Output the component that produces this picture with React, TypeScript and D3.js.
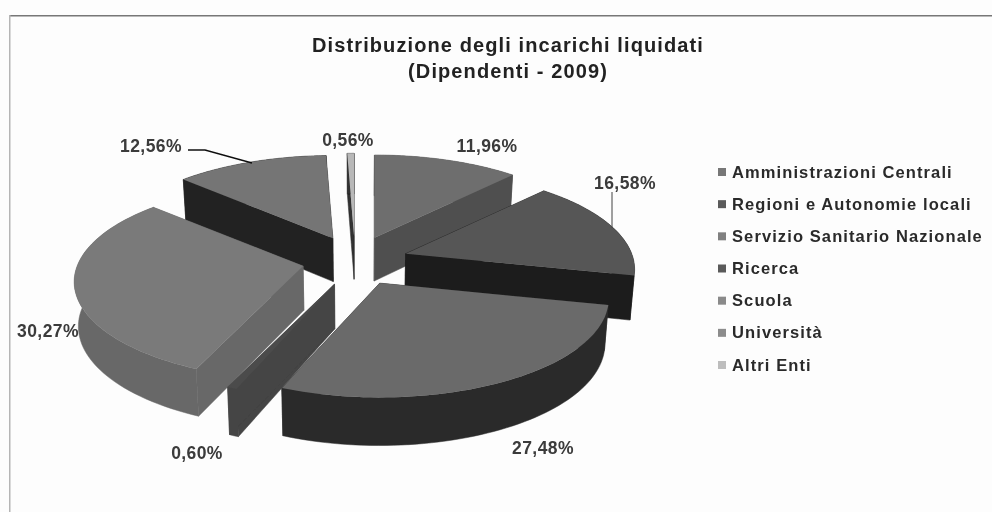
import * as d3 from 'd3';

const categories = [
  'Amministrazioni Centrali',
  'Regioni e Autonomie locali',
  'Servizio Sanitario Nazionale',
  'Ricerca',
  'Scuola',
  'Università',
  'Altri Enti',
];
const shares = [11.96, 16.58, 27.48, 0.6, 30.27, 12.56, 0.56];
const shareLabels = ['11,96%', '16,58%', '27,48%', '0,60%', '30,27%', '12,56%', '0,56%'];
const titleLines = ['Distribuzione degli incarichi liquidati', '(Dipendenti - 2009)'];

const topColors = ['#6e6e6e', '#565656', '#6a6a6a', '#4c4c4c', '#7a7a7a', '#747474', '#b8b8b8'];
const sideColors = ['#505050', '#1c1c1c', '#2c2c2c', '#454545', '#686868', '#242424', '#303030'];
const legendColors = ['#777777', '#5a5a5a', '#808080', '#5a5a5a', '#8a8a8a', '#8c8c8c', '#bdbdbd'];
const labelSpots = [
  [487, 146],
  [625, 183],
  [543, 448],
  [197, 453],
  [48, 331],
  [151, 146],
  [348, 140],
];

const FONT = '"Liberation Sans", Arial, sans-serif';
const cx = 355;
const cy = 261;
const perspective = 0.16;

// scarto delle fette dal centro
const explodeX = d3.scaleLinear().domain([-1, 1]).range([cx - 53, cx + 53]);
const explodeY = d3.scaleLinear().domain([-1, 1]).range([cy + 25, cy - 25]);
const radiusX = d3.scaleLinear().domain([-1, 1]).range([-226, 226]);
const radiusY = d3.scaleLinear().domain([-1, 1]).range([96, -96]);
const legendY = d3.scalePoint<string>().domain(categories).range([172, 365]);

const path = d3.line();

type Pt = [number, number];

function drop([x, y]: Pt): Pt {
  return [cx + (x - cx) * 0.985, y + 44 + (y - 260) * 0.03];
}

function buildSlice(d: d3.PieArcDatum<number>) {
  const mid = (d.startAngle + d.endAngle) / 2;
  const apex: Pt = [explodeX(Math.sin(mid)), explodeY(Math.cos(mid))];
  const steps = d3.range(61).map(i => d.startAngle + ((d.endAngle - d.startAngle) * i) / 60);
  const rim: Pt[] = steps.map(a => {
    const p = 1 / (1 + perspective * Math.cos(a));
    return [apex[0] + radiusX(Math.sin(a)) * p, apex[1] + radiusY(Math.cos(a)) * p];
  });
  const first = rim[0];
  const last = rim[rim.length - 1];
  return {
    depth: Math.cos(mid),
    top: path([apex, ...rim]) + 'Z',
    sides: [
      path([apex, first, drop(first), drop(apex)]) + 'Z',
      path([apex, last, drop(last), drop(apex)]) + 'Z',
      path([...rim, ...rim.map(drop).reverse()]) + 'Z',
    ],
  };
}

const pie = d3
  .pie<number>()
  .sort(null)
  .value(d => d);

export default function App() {
  const slices = pie(shares)
    .map((d, i) => ({ ...buildSlice(d), i }))
    .sort((a, b) => b.depth - a.depth);

  return (
    <svg
      width={992}
      height={512}
      style={{ position: 'fixed', left: 0, top: 0, background: '#fdfdfd' }}
      fontFamily={FONT}
    >
      <defs>
        <filter id="scan" x="0" y="0" width="100%" height="100%">
          <feGaussianBlur stdDeviation="0.7" />
        </filter>
      </defs>
      <g filter="url(#scan)">
        <path d="M9,15.5H992" stroke="#777" strokeWidth={2} fill="none" />
        <path d="M9.5,15V512" stroke="#b5b5b5" strokeWidth={2} fill="none" />

        {titleLines.map((t, i) => (
          <text
            key={t}
            x={508}
            y={52 + i * 26}
            textAnchor="middle"
            fontSize={20}
            fontWeight="bold"
            letterSpacing={1.1}
            fill="#222"
          >
            {t}
          </text>
        ))}

        {slices.map(s => (
          <g key={s.i}>
            {s.sides.map((d, j) => (
              <path key={j} d={d} fill={sideColors[s.i]} stroke={sideColors[s.i]} strokeWidth={0.5} />
            ))}
            <path d={s.top} fill={topColors[s.i]} />
          </g>
        ))}

        <path d="M188,150H205L252,163" stroke="#111" strokeWidth={1.5} fill="none" />
        <path d="M612,192V228" stroke="#444" strokeWidth={1} fill="none" />

        {shareLabels.map((t, i) => (
          <text
            key={t}
            x={labelSpots[i][0]}
            y={labelSpots[i][1] + 6}
            textAnchor="middle"
            fontSize={17.5}
            fontWeight="bold"
            letterSpacing={0.4}
            fill="#3a3a3a"
          >
            {t}
          </text>
        ))}

        {categories.map((c, i) => (
          <g key={c} transform={`translate(718,${legendY(c)})`}>
            <rect x={0} y={-4} width={8} height={8} fill={legendColors[i]} />
            <text x={14} y={5.5} fontSize={16.5} fontWeight="bold" letterSpacing={1.1} fill="#2a2a2a">
              {c}
            </text>
          </g>
        ))}
      </g>
    </svg>
  );
}
